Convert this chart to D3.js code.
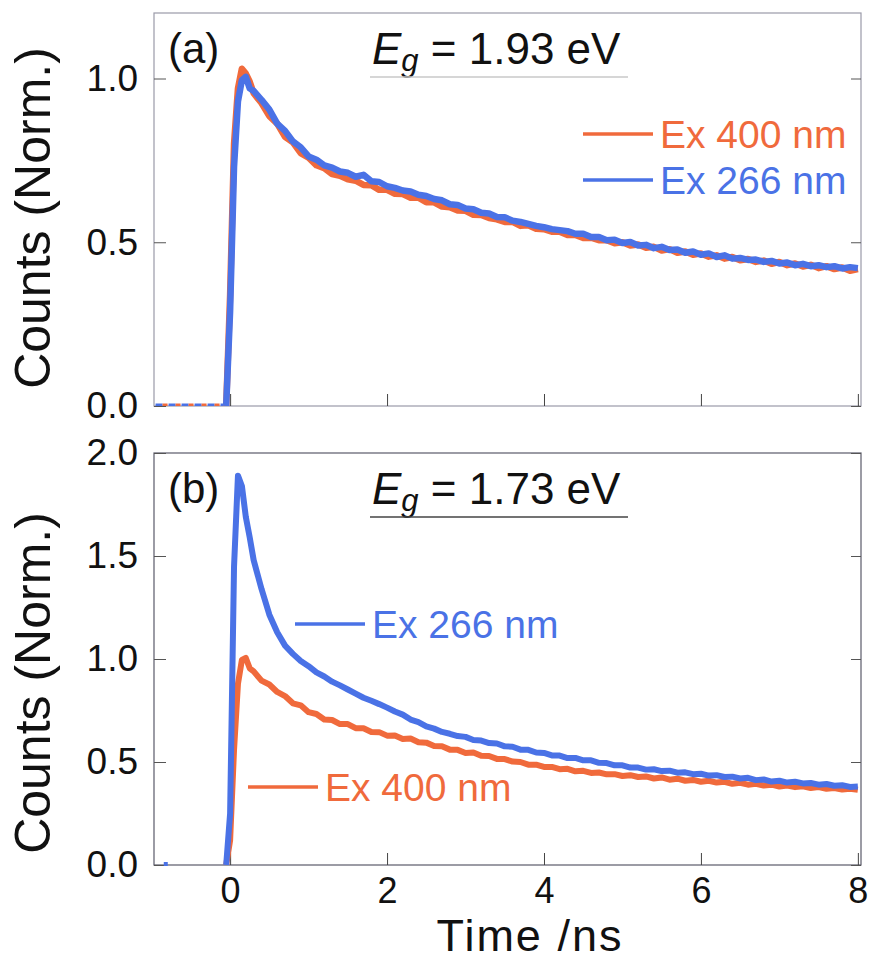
<!DOCTYPE html>
<html>
<head>
<meta charset="utf-8">
<script src="https://cdn.jsdelivr.net/npm/d3@7"></script>
<style>
  body { margin: 0; background: #fff; }
  svg text { font-family: "Liberation Sans", Arial, sans-serif; fill: #111; }
  .domain { display: none; }
</style>
</head>
<body>
<svg id="chart" width="874" height="960"></svg>
<script>
// shared time axis (ns)
var time = [-0.05, 0, 0.05, 0.1, 0.15, 0.2, 0.25, 0.3,
  0.4, 0.5, 0.6, 0.7, 0.8, 0.9, 1.0, 1.1, 1.2, 1.3,
  1.4, 1.5, 1.6, 1.7, 1.8, 1.9, 2.0, 2.1, 2.2, 2.3,
  2.4, 2.5, 2.6, 2.7, 2.8, 2.9, 3.0, 3.1, 3.2, 3.3,
  3.4, 3.5, 3.6, 3.7, 3.8, 3.9, 4.0, 4.1, 4.2, 4.3,
  4.4, 4.5, 4.6, 4.7, 4.8, 4.9, 5.0, 5.1, 5.2, 5.3,
  5.4, 5.5, 5.6, 5.7, 5.8, 5.9, 6.0, 6.1, 6.2, 6.3,
  6.4, 6.5, 6.6, 6.7, 6.8, 6.9, 7.0, 7.1, 7.2, 7.3,
  7.4, 7.5, 7.6, 7.7, 7.8, 7.9, 8.0];

// (a) Eg = 1.93 eV
var aOrange = [0.0, 0.34, 0.80, 0.97, 1.03, 1.015, 0.99, 0.955,
  0.925, 0.885, 0.862, 0.822, 0.805, 0.772, 0.758, 0.735, 0.726, 0.708,
  0.703, 0.692, 0.688, 0.675, 0.674, 0.66, 0.66, 0.648, 0.647, 0.636,
  0.636, 0.622, 0.622, 0.609, 0.607, 0.597, 0.596, 0.584, 0.583, 0.574,
  0.57, 0.562, 0.562, 0.55, 0.552, 0.541, 0.54, 0.532, 0.532, 0.522,
  0.522, 0.513, 0.514, 0.506, 0.506, 0.497, 0.5, 0.49, 0.493, 0.483,
  0.486, 0.475, 0.479, 0.468, 0.472, 0.462, 0.466, 0.456, 0.46, 0.45,
  0.455, 0.445, 0.449, 0.44, 0.444, 0.434, 0.44, 0.43, 0.435, 0.426,
  0.431, 0.421, 0.427, 0.418, 0.423, 0.413, 0.418];
var aBlue = [0.0, 0.29, 0.73, 0.93, 0.995, 1.005, 0.97, 0.962,
  0.935, 0.905, 0.862, 0.84, 0.808, 0.79, 0.762, 0.752, 0.735, 0.728,
  0.716, 0.712, 0.7, 0.706, 0.686, 0.684, 0.671, 0.666, 0.658, 0.655,
  0.645, 0.641, 0.632, 0.628, 0.616, 0.614, 0.603, 0.601, 0.59, 0.588,
  0.577, 0.576, 0.566, 0.562, 0.556, 0.55, 0.546, 0.54, 0.537, 0.534,
  0.526, 0.526, 0.516, 0.516, 0.506, 0.508, 0.498, 0.501, 0.49, 0.492,
  0.482, 0.486, 0.476, 0.478, 0.468, 0.472, 0.462, 0.466, 0.455, 0.46,
  0.45, 0.452, 0.446, 0.447, 0.44, 0.443, 0.435, 0.438, 0.43, 0.434,
  0.427, 0.43, 0.424, 0.427, 0.42, 0.424, 0.421];

// (b) Eg = 1.73 eV
var bOrange = [0.0, 0.12, 0.56, 0.88, 0.995, 1.005, 0.955, 0.94,
  0.895, 0.876, 0.84, 0.82, 0.785, 0.775, 0.742, 0.733, 0.706, 0.704,
  0.684, 0.684, 0.664, 0.664, 0.646, 0.645, 0.628, 0.629, 0.612, 0.614,
  0.596, 0.594, 0.578, 0.576, 0.56, 0.559, 0.544, 0.546, 0.53, 0.529,
  0.515, 0.514, 0.502, 0.5, 0.487, 0.487, 0.476, 0.476, 0.465, 0.467,
  0.455, 0.457, 0.447, 0.449, 0.44, 0.441, 0.432, 0.436, 0.427, 0.43,
  0.42, 0.425, 0.414, 0.419, 0.409, 0.413, 0.404, 0.409, 0.4, 0.404,
  0.394, 0.399, 0.39, 0.394, 0.386, 0.39, 0.381, 0.386, 0.378, 0.382,
  0.374, 0.378, 0.37, 0.374, 0.366, 0.37, 0.365];
var bBlue = [0.0, 0.25, 1.45, 1.89, 1.84, 1.69, 1.59, 1.48,
  1.34, 1.215, 1.13, 1.065, 1.025, 0.99, 0.965, 0.935, 0.915, 0.89,
  0.872, 0.852, 0.832, 0.812, 0.797, 0.781, 0.764, 0.745, 0.73, 0.706,
  0.694, 0.673, 0.662, 0.646, 0.637, 0.626, 0.622, 0.607, 0.604, 0.592,
  0.59, 0.576, 0.574, 0.56, 0.559, 0.546, 0.544, 0.532, 0.531, 0.519,
  0.52, 0.508, 0.508, 0.496, 0.495, 0.484, 0.484, 0.473, 0.473, 0.463,
  0.465, 0.456, 0.458, 0.448, 0.45, 0.441, 0.443, 0.434, 0.436, 0.427,
  0.429, 0.42, 0.423, 0.412, 0.415, 0.405, 0.409, 0.4, 0.404, 0.396,
  0.398, 0.39, 0.393, 0.385, 0.387, 0.379, 0.381];

// flat pre-trigger background
var baseTime = [-0.95, -0.05];
var baseValue = [0, 0];

var xTicks = [0, 2, 4, 6, 8];
var yTicksA = [0, 0.5, 1.0];
var yTicksB = [0, 0.5, 1.0, 1.5, 2.0];

var orange = "#f06a3c", blue = "#4a72e6";

var svg = d3.select("#chart");

var left = 154, right = 861;

var x = d3.scaleLinear()
    .domain([-0.97, 8.04])
    .range([left, right]);

function drawPanel(opts) {
  var y = d3.scaleLinear()
      .domain(opts.yDomain)
      .range([opts.bottom, opts.top]);

  var g = svg.append("g");

  g.append("clipPath")
      .attr("id", opts.id + "-clip")
    .append("rect")
      .attr("x", left)
      .attr("y", opts.top)
      .attr("width", right - left)
      .attr("height", opts.bottom - opts.top);

  // frame
  g.append("rect")
      .attr("x", left)
      .attr("y", opts.top)
      .attr("width", right - left)
      .attr("height", opts.bottom - opts.top)
      .attr("fill", "none")
      .attr("stroke", opts.frame)
      .attr("stroke-width", 1.2);

  var xAxis = d3.axisBottom(x)
      .tickValues(xTicks)
      .tickSize(-12)
      .tickPadding(12)
      .tickFormat(opts.xLabels ? d3.format("d") : "");

  g.append("g")
      .attr("class", "x axis")
      .attr("transform", "translate(0," + opts.bottom + ")")
      .call(xAxis)
      .call(function(s) {
        s.selectAll("line").attr("stroke", "#444");
        s.selectAll("text").attr("font-size", 36).attr("dy", "0.72em");
      });

  g.append("g")
      .attr("class", "y axis")
      .attr("transform", "translate(" + left + ",0)")
      .call(d3.axisLeft(y).tickValues(opts.yTicks).tickSize(-12).tickPadding(16).tickFormat(d3.format(".1f")))
      .call(function(s) {
        s.selectAll("line").attr("stroke", "#555");
        s.selectAll("text").attr("font-size", 37);
      });

  g.append("g")
      .attr("class", "y axis right")
      .attr("transform", "translate(" + right + ",0)")
      .call(d3.axisRight(y).tickValues(opts.yTicks).tickSize(-10).tickFormat(""))
      .call(function(s) { s.selectAll("line").attr("stroke", "#555"); });

  var line = d3.line()
      .x(function(d) { return x(d.t); })
      .y(function(d) { return y(d.v); });

  var plot = g.append("g").attr("clip-path", "url(#" + opts.id + "-clip)");

  // pre-trigger background
  opts.base.forEach(function(b) {
    plot.append("path")
        .datum(baseTime.map(function(t, i) { return {t: t, v: baseValue[i]}; }))
        .attr("d", line)
        .attr("fill", "none")
        .attr("stroke", b.color)
        .attr("stroke-width", 5)
        .attr("stroke-dasharray", b.dash)
        .attr("stroke-dashoffset", b.offset);
  });

  opts.series.forEach(function(s) {
    plot.append("path")
        .datum(time.map(function(t, i) { return {t: t, v: s.values[i]}; }))
        .attr("d", line)
        .attr("fill", "none")
        .attr("stroke", s.color)
        .attr("stroke-width", opts.lineWidth)
        .attr("stroke-linejoin", "round");
  });

  // panel letter
  g.append("text")
      .attr("x", 168)
      .attr("y", opts.top + 50)
      .attr("font-size", 42)
      .text(opts.letter);

  // Eg title
  var title = g.append("text")
      .attr("x", 372)
      .attr("y", opts.top + 51)
      .attr("font-size", 44);
  title.append("tspan").attr("font-style", "italic").text("E");
  title.append("tspan").attr("font-style", "italic").attr("font-size", 31).attr("dy", 7).text("g");
  title.append("tspan").attr("dy", -7).text(" = " + opts.eg + " eV");

  g.append("line")
      .attr("x1", 370)
      .attr("x2", 628)
      .attr("y1", opts.top + 64)
      .attr("y2", opts.top + 64)
      .attr("stroke", opts.underline)
      .attr("stroke-width", 1.5);

  // legend
  opts.legend.forEach(function(l) {
    g.append("line")
        .attr("x1", l.x)
        .attr("x2", l.x + 70)
        .attr("y1", l.y)
        .attr("y2", l.y)
        .attr("stroke", l.color)
        .attr("stroke-width", 3.5);
    g.append("text")
        .attr("x", l.x + 77)
        .attr("y", l.y + 14)
        .attr("font-size", 39)
        .style("fill", l.color)
        .text(l.label);
  });

  return y;
}

drawPanel({
  id: "a",
  top: 13,
  bottom: 406,
  yDomain: [0, 1.2],
  yTicks: yTicksA,
  xLabels: false,
  lineWidth: 6.5,
  frame: "#9a9aa8",
  underline: "#c8c8c8",
  letter: "(a)",
  eg: "1.93",
  base: [{color: blue, dash: "7,6", offset: 0}, {color: orange, dash: "5,8", offset: 6}],
  series: [{values: aOrange, color: orange}, {values: aBlue, color: blue}],
  legend: [
    {x: 583, y: 134, color: orange, label: "Ex 400 nm"},
    {x: 583, y: 180, color: blue, label: "Ex 266 nm"}
  ]
});

var yB = drawPanel({
  id: "b",
  top: 453,
  bottom: 865,
  yDomain: [0, 2.0],
  yTicks: yTicksB,
  xLabels: true,
  lineWidth: 6,
  frame: "#5a5a6a",
  underline: "#444",
  letter: "(b)",
  eg: "1.73",
  base: [],
  series: [{values: bOrange, color: orange}, {values: bBlue, color: blue}],
  legend: [
    {x: 295, y: 624, color: blue, label: "Ex 266 nm"},
    {x: 248, y: 787, color: orange, label: "Ex 400 nm"}
  ]
});

// single stray background count in (b)
svg.append("rect")
    .attr("x", x(-0.82) - 2)
    .attr("y", yB(0) - 3)
    .attr("width", 4)
    .attr("height", 4)
    .attr("fill", blue);

// axis titles
svg.append("text")
    .attr("x", 530)
    .attr("y", 951)
    .attr("text-anchor", "middle")
    .attr("font-size", 45)
    .attr("letter-spacing", 2)
    .text("Time /ns");

[{cy: 218}, {cy: 683}].forEach(function(p) {
  svg.append("text")
      .attr("transform", "translate(50," + p.cy + ") rotate(-90)")
      .attr("text-anchor", "middle")
      .attr("font-size", 50)
      .text("Counts (Norm.)");
});
</script>
</body>
</html>
